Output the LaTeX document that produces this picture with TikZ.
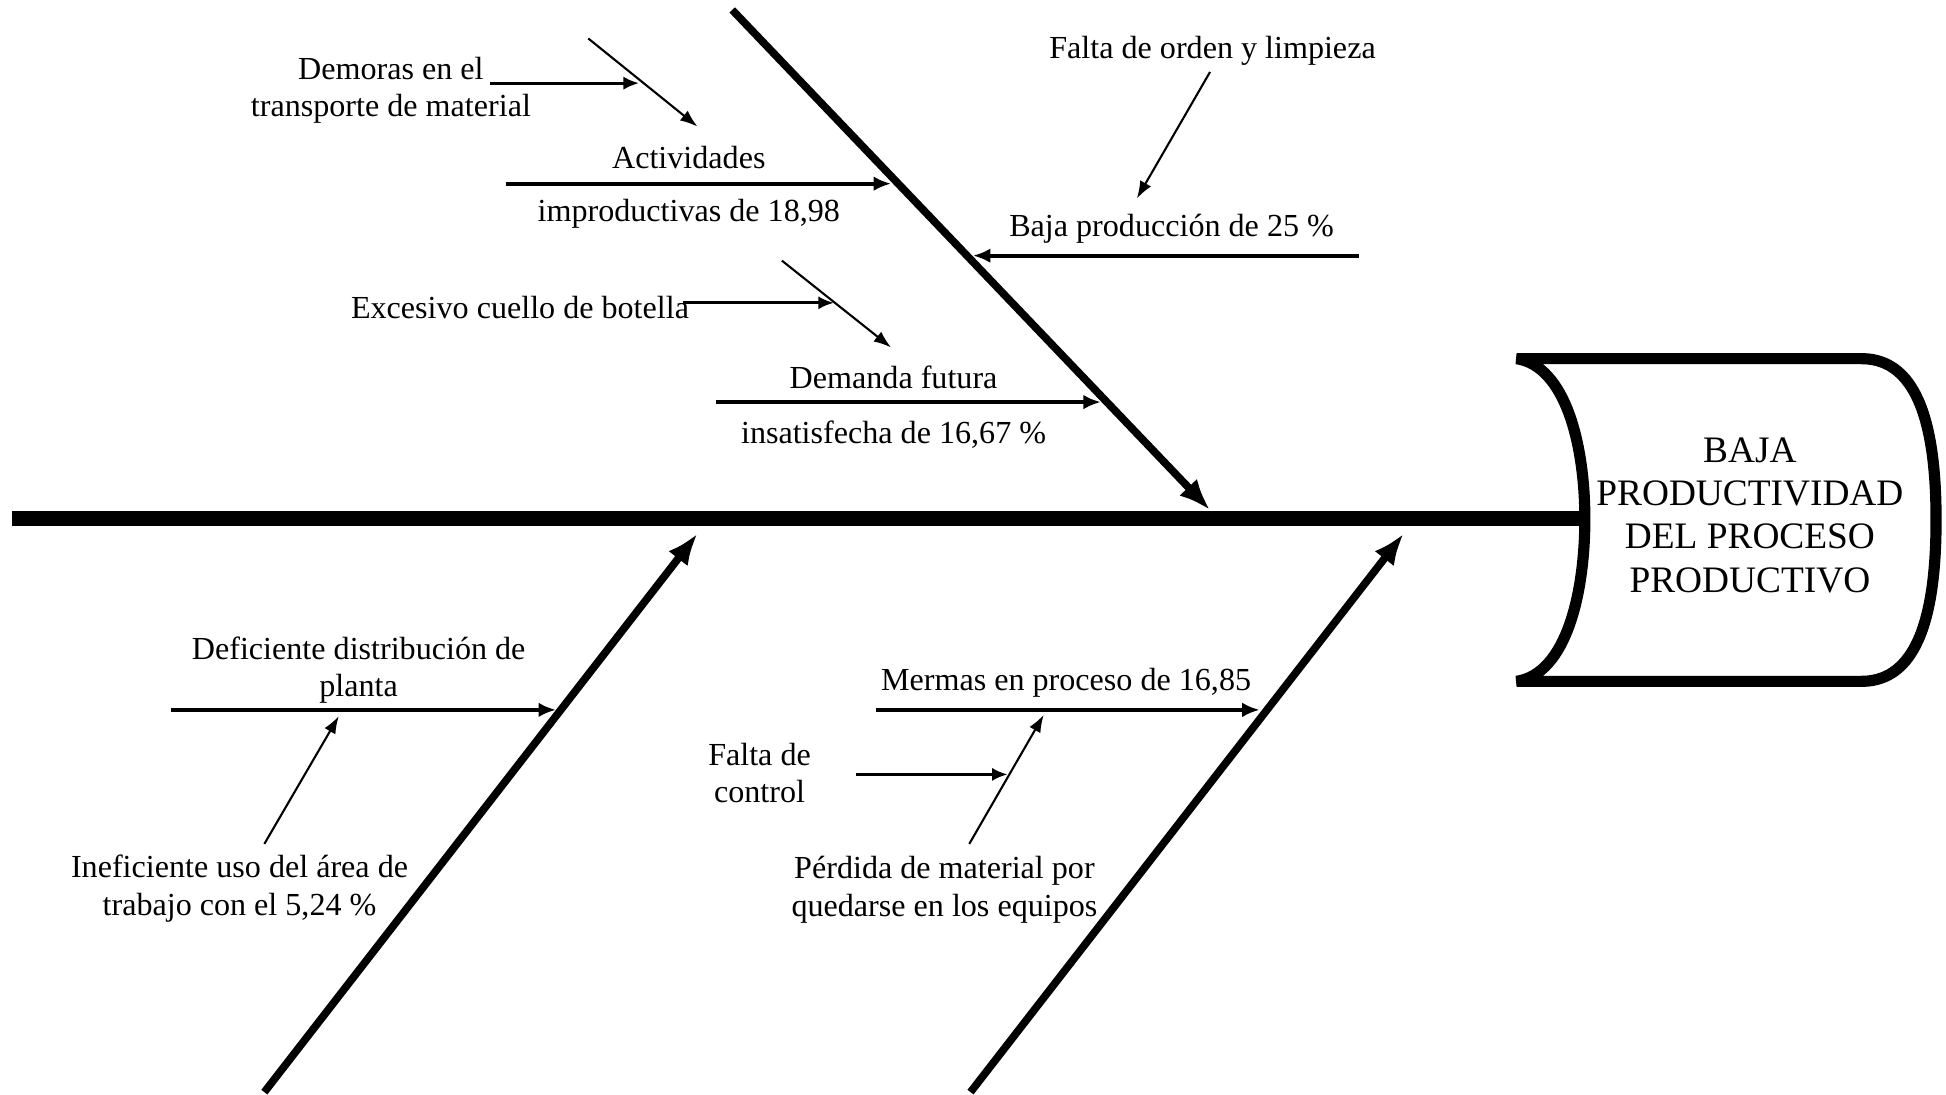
\documentclass[tikz,border=0pt]{standalone}
\usepackage{fontspec}
\setmainfont{Liberation Serif}
\usetikzlibrary{arrows.meta, positioning}

\begin{document}
\begin{tikzpicture}[x=0.0125cm, y=-0.0125cm,
        every node/.style={font=\fontsize{9.2}{10.7}\selectfont, align=center, inner sep=0pt},
        spine/.style={line width=4.4pt},
        bone/.style={line width=2.2pt, -{Latex[length=9pt,width=7pt]}},
        subbone/.style={line width=1.1pt, -{Latex[length=5pt,width=4.2pt]}},
        causeline/.style={line width=0.9pt, -{Latex[length=4.5pt,width=3.8pt]}},
        thinline/.style={line width=0.6pt, -{Latex[length=5pt,width=3.6pt]}}]

            \useasboundingbox (0,0) rectangle (1568,882);

            % spine and effect box
            \coordinate (tail) at (10,418);
            \coordinate (head) at (1277,418);
            \draw[spine] (tail) -- (head);
            \draw[line width=3.2pt] (1222,289) -- (1500,289)
                .. controls (1548,289) and (1560,350) .. (1560,419)
                .. controls (1560,488) and (1548,549) .. (1500,549) -- (1222,549)
                .. controls (1262,543) and (1277,478) .. (head)
                .. controls (1277,360) and (1262,295) .. (1222,289) -- cycle;
            \node[font=\fontsize{10.7}{12.4}\selectfont] (effect) at (1410,415)
                {BAJA\\PRODUCTIVIDAD\\DEL PROCESO\\PRODUCTIVO};

            % main bones
            \coordinate (top) at (590,8);
            \coordinate (topend) at (975,411);
            \coordinate (botl) at (213,880);
            \coordinate (botlend) at (562,430);
            \coordinate (botr) at (782,880);
            \coordinate (botrend) at (1131,430);
            \draw[bone] (top) -- (topend);
            \draw[bone] (botl) -- (botlend);
            \draw[bone] (botr) -- (botrend);

            % upper causes
            \coordinate (act0) at (408,148);
            \coordinate (act1) at (718,148);
            \draw[subbone] (act0) -- (act1);
            \node (actA) at (555,127) {Actividades};
            \node (actB) at (555,172) {improductivas de 18,98};

            \node (demoras) at (315,73) {Demoras en el\\transporte de material};
            \coordinate (dem0) at (395,67);
            \coordinate (dem1) at (515,67);
            \coordinate (dd0) at (474,31);
            \coordinate (dd1) at (562,102);
            \draw[causeline] (dem0) -- (dem1);
            \draw[thinline] (dd0) -- (dd1);

            \coordinate (dmd0) at (577,324);
            \coordinate (dmd1) at (887,324);
            \draw[subbone] (dmd0) -- (dmd1);
            \node (dmdA) at (720,304) {Demanda futura};
            \node (dmdB) at (720,350) {insatisfecha de 16,67 \%};

            \node (exces) at (419,248) {Excesivo cuello de botella};
            \coordinate (exc0) at (550,244);
            \coordinate (exc1) at (672,244);
            \coordinate (ed0) at (630,210);
            \coordinate (ed1) at (718,280);
            \draw[causeline] (exc0) -- (exc1);
            \draw[thinline] (ed0) -- (ed1);

            \coordinate (baja0) at (1095,206);
            \coordinate (baja1) at (784,206);
            \draw[subbone] (baja0) -- (baja1);
            \node (baja) at (944,184) {Baja producción de 25 \%};

            \node (orden) at (977,41) {Falta de orden y limpieza};
            \coordinate (ord0) at (975,58);
            \coordinate (ord1) at (916,160);
            \draw[thinline] (ord0) -- (ord1);

            % lower causes
            \coordinate (def0) at (138,572);
            \coordinate (def1) at (448,572);
            \draw[subbone] (def0) -- (def1);
            \node (defic) at (289,540) {Deficiente distribución de\\planta};

            \node (inef) at (193,716) {Ineficiente uso del área de\\trabajo con el 5,24 \%};
            \coordinate (inf0) at (213,680);
            \coordinate (inf1) at (273,577);
            \draw[thinline] (inf0) -- (inf1);

            \coordinate (mer0) at (706,572);
            \coordinate (mer1) at (1015,572);
            \draw[subbone] (mer0) -- (mer1);
            \node (mermas) at (859,550) {Mermas en proceso de 16,85};

            \node (control) at (612,623) {Falta de\\control};
            \coordinate (ctl0) at (690,624);
            \coordinate (ctl1) at (812,624);
            \draw[causeline] (ctl0) -- (ctl1);

            \node (perdida) at (761,717) {Pérdida de material por\\quedarse en los equipos};
            \coordinate (per0) at (781,680);
            \coordinate (per1) at (841,576);
            \draw[thinline] (per0) -- (per1);
\end{tikzpicture}
\end{document}
